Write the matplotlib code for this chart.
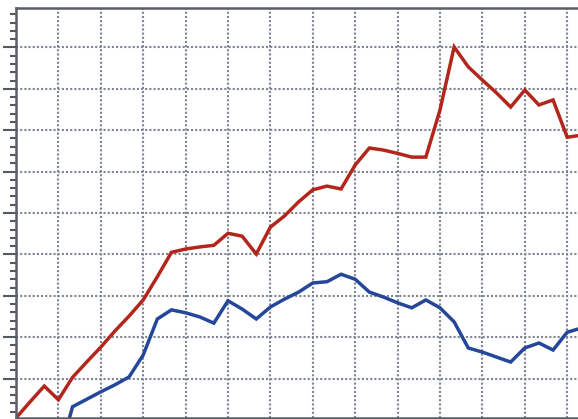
import numpy as np
import matplotlib
matplotlib.use('Agg')
import matplotlib.pyplot as plt
from matplotlib.ticker import MultipleLocator, NullFormatter

# values, one point every third of a grid column
red = [0.05, 0.44, 0.82, 0.49, 1.03, 1.40, 1.76, 2.15, 2.51, 2.90,
       3.46, 4.05, 4.13, 4.18, 4.22, 4.51, 4.44, 4.01, 4.66, 4.93,
       5.27, 5.56, 5.65, 5.58, 6.16, 6.57, 6.52, 6.44, 6.35, 6.35,
       7.49, 9.01, 8.53, 8.21, 7.90, 7.56, 7.97, 7.61, 7.73, 6.83, 6.88]
blue = [np.nan, np.nan, np.nan, -0.92, 0.32, 0.50, 0.68, 0.85, 1.04, 1.57,
        2.44, 2.66, 2.59, 2.49, 2.34, 2.88, 2.68, 2.44, 2.73, 2.92,
        3.09, 3.31, 3.34, 3.52, 3.40, 3.09, 2.97, 2.83, 2.71, 2.90,
        2.71, 2.37, 1.74, 1.64, 1.52, 1.40, 1.74, 1.86, 1.69, 2.12, 2.22]
x = np.arange(len(red)) / 3.0

fig = plt.figure(figsize=(5.78, 4.19), dpi=100)
ax = fig.add_axes([16/578, 1/419, 562/578, 410/419])

ax.plot(x, red, color='#b3261c', lw=2.5, solid_joinstyle='miter')
ax.plot(x, blue, color='#24479a', lw=2.5, solid_joinstyle='miter')

# zero sits just under the bottom edge of the crop
ax.set_xlim(0, 562/42.4)
ax.set_ylim(2/41.4, 412/41.4)

ax.xaxis.set_major_locator(MultipleLocator(1))
ax.yaxis.set_major_locator(MultipleLocator(1))
ax.yaxis.set_minor_locator(MultipleLocator(0.2))
ax.yaxis.set_major_formatter(NullFormatter())
ax.tick_params(axis='x', length=0, labelbottom=False)
ax.tick_params(axis='y', which='major', length=9.5, width=1.5, color='#555a62')
ax.tick_params(axis='y', which='minor', length=4, width=1.5, color='#555a62')

ax.grid(True, which='major', color='#7d8591', lw=1.5, linestyle=(0, (1, 1)))

ax.spines['right'].set_visible(False)
for s in ['left', 'top', 'bottom']:
    ax.spines[s].set_color('#5a5f66')
    ax.spines[s].set_linewidth(1.8)

fig.savefig('out.png', dpi=100)
